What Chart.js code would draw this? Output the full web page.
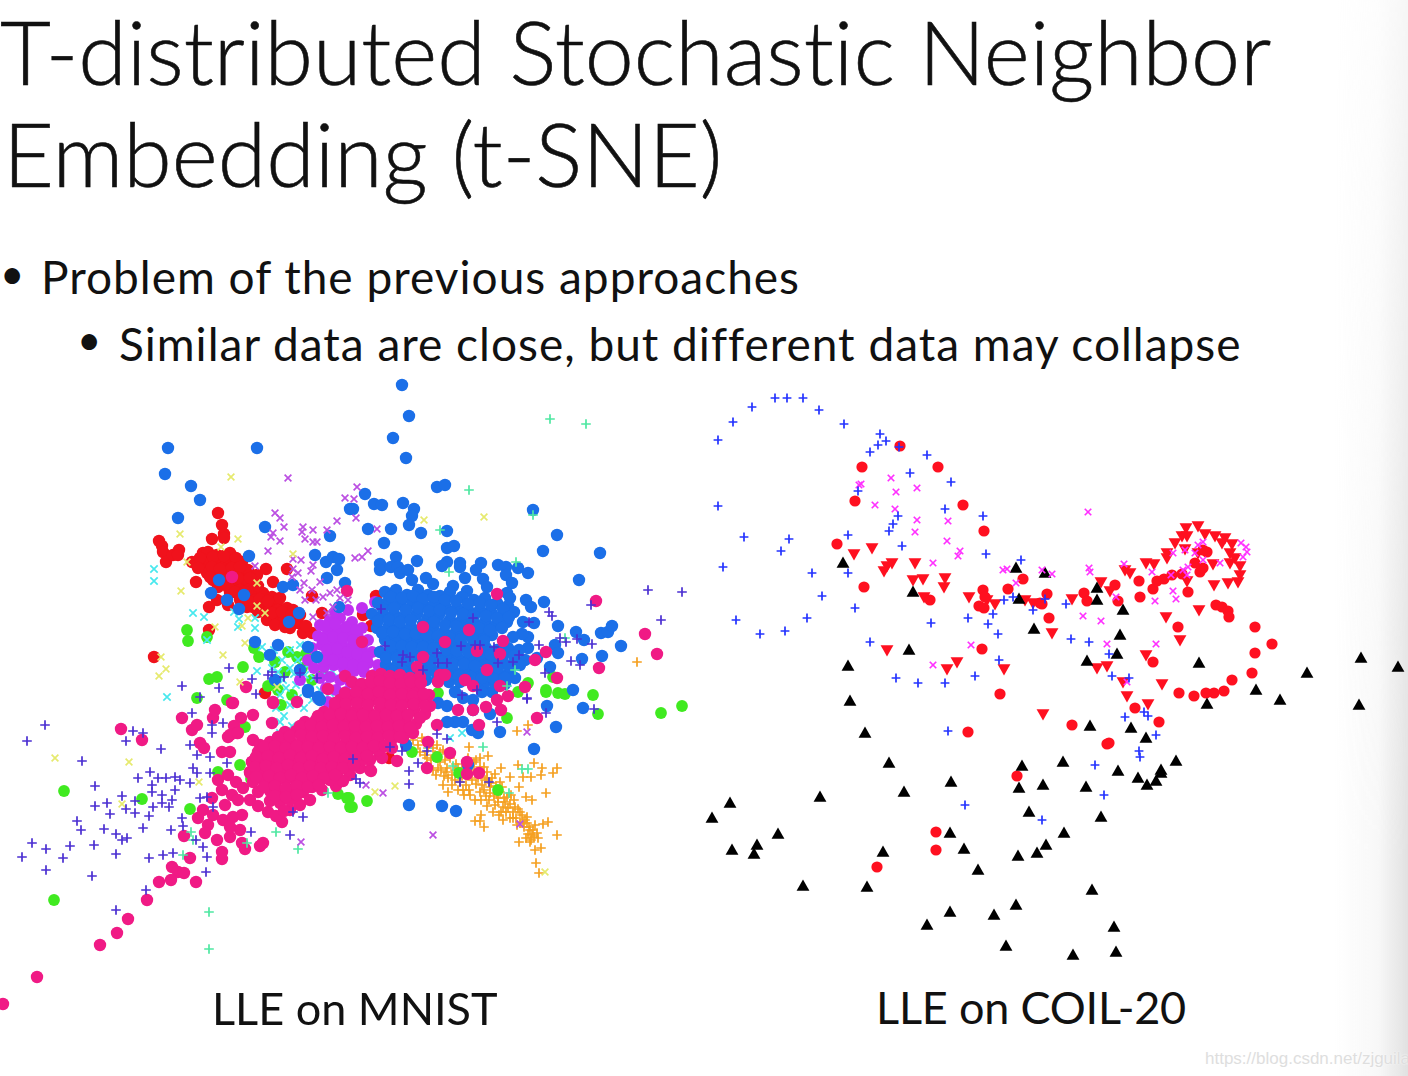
<!DOCTYPE html>
<html>
<head>
<meta charset="utf-8">
<title>t-SNE slide</title>
<script src="https://cdn.jsdelivr.net/npm/chart.js@4"></script>
<style>
  html, body { margin: 0; padding: 0; background: #fff; }
  body { position: relative; width: 1408px; height: 1076px; overflow: hidden; font-family: Lato, "Open Sans", sans-serif; color: #111; font-variant-ligatures: none; }
  .txt { position: absolute; white-space: nowrap; line-height: 1; }
  .title { font-weight: 300; font-size: 88px; -webkit-text-stroke: 0.6px #111; }
  .bullet { font-size: 46px; letter-spacing: 1px; }
  .caption { font-size: 45px; }
  .mark { font-size: 42px; }
  canvas { position: absolute; filter: blur(0.5px); }
  #edge { position: absolute; left: 1335px; top: 0; width: 73px; height: 1076px; background: linear-gradient(to right, rgba(225,225,225,0), rgba(225,225,225,0.25) 60%, rgba(225,225,225,1)); -webkit-mask-image: linear-gradient(to bottom, rgba(0,0,0,0.3), rgba(0,0,0,1) 80%); mask-image: linear-gradient(to bottom, rgba(0,0,0,0.3), rgba(0,0,0,1) 80%); }
  #mark { position: absolute; left: 1205px; top: 1049px; font: 17px "Liberation Sans", sans-serif; color: #dedede; text-shadow: 0 0 2px #fff; }
</style>
</head>
<body>
<div id="edge"></div>
<div class="txt title" style="top:7px;left:0">T-distributed Stochastic Neighbor</div>
<div class="txt title" style="top:109px;left:3px">Embedding (t-SNE)</div>
<div class="txt mark" style="left:0;top:252px">•</div>
<div class="txt bullet" style="left:41px;top:254px">Problem of the previous approaches</div>
<div class="txt mark" style="left:77px;top:318px">•</div>
<div class="txt bullet" style="left:119px;top:321px">Similar data are close, but different data may collapse</div>
<canvas id="chart-mnist" width="690" height="640" style="left:0;top:375px"></canvas>
<canvas id="chart-coil" width="708" height="600" style="left:700px;top:375px"></canvas>
<div class="txt caption" style="left:212px;top:986px;letter-spacing:0">LLE on MNIST</div>
<div class="txt caption" style="left:876px;top:985px;letter-spacing:-0.2px">LLE on COIL-20</div>
<div id="mark">https://blog.csdn.net/zjguilai</div>
<script>
const mnistOrange = [[517,731],[528,725],[518,765],[534,763],[542,768],[557,768],[553,773],[541,775],[523,777],[531,777],[510,777],[519,787],[546,793],[480,792],[526,797],[532,800],[481,815],[475,821],[480,821],[484,827],[503,820],[543,824],[548,822],[557,835],[519,842],[530,842],[535,850],[541,848],[536,863],[539,873],[488,756],[469,747],[501,768],[469,790],[637,662],
  [413,740],[418,745],[424,741],[420,752],[428,748],[435,755],[431,760],[440,752],[445,760],[438,768],[447,768],[452,775],[444,776],[458,768],[462,776],[468,772],[474,770],[480,767],[487,772],[472,780],[478,778],[485,780],[492,778],[466,785],[490,787],[484,790],[496,786],[500,792],[494,796],[489,800],[504,798],[498,802],[507,797],[503,807],[510,804],[514,800],[506,812],[513,812],[518,809],[510,818],[516,818],[522,815],[520,823],[525,820],[527,817],[524,827],[529,827],[533,830],[528,834],[534,837],[537,833],[531,840],[452,785],[458,790],[464,795],[443,785],[448,792],[455,770],[426,766],[436,775],[443,750],[495,774],[500,782],[476,760],[468,758],
  [474,762],[479,773],[484,767],[470,774],[476,784],[482,785],[487,778],[491,783],[480,758],[462,768],[456,764],[450,758],[446,772],[440,762],[433,748],[425,755],[422,738],[430,742],[437,745],[497,794],[502,787],[490,793],[486,796],[495,805],[501,812],[508,808],[505,802],[511,795],[498,798],[515,807],[520,812],[513,818],[517,825],[523,822],[527,823],[530,830],[535,825],[526,838],[532,835],[538,838],[460,782],[455,780],[463,790],[470,795],[475,800],[481,800],[487,806],[493,812],[499,815],[448,778],[441,770],[433,770],[427,758],[437,758]];
const mnistRed = [[218,513],[222,525],[212,539],[224,534],[224,538],[159,541],[162,546],[163,552],[166,562],[173,555],[179,550],[178,555],[192,562],[197,565],[203,553],[208,552],[217,555],[230,553],[203,563],[210,562],[218,563],[227,562],[235,565],[242,562],[207,573],[215,572],[225,573],[233,573],[242,572],[248,570],[257,575],[213,580],[223,583],[233,583],[243,582],[252,587],[230,593],[238,588],[247,597],[255,595],[263,593],[272,597],[277,602],[253,607],[262,603],[270,608],[278,610],[287,608],[293,610],[247,607],[267,620],[277,618],[285,615],[298,623],[303,633],[312,633],[266,569],[287,569],[273,582],[196,582],[209,607],[217,600],[228,605],[209,630],[154,657],[265,693],[312,596],[322,613],[376,596],[363,615],[371,626],[389,758],[215,560],[222,568],[240,590],[255,600],[283,622],[290,628],[268,612],[306,626],[292,618],
  [200,558],[213,557],[224,556],[236,558],[198,568],[212,567],[220,569],[232,568],[240,567],[210,577],[220,578],[230,577],[238,578],[250,578],[218,587],[228,587],[248,590],[258,586],[235,592],[245,592],[265,600],[240,600],[250,602],[260,599],[268,601],[258,612],[272,613],[282,612],[292,614],[275,625],[285,627],[280,598],[300,615]];
const mnistCyan = [[154,569],[154,581],[193,613],[204,617],[239,619],[234,612],[238,627],[255,628],[255,618],[262,647],[207,640],[257,671],[167,697],[280,733],[274,650],[282,660],[290,668],[298,660],[305,675],[296,685],[283,680],[310,690],[318,668],[325,685],[333,672],[300,645],[290,650],[272,668],[312,700],[280,695],[462,733],[428,745],[450,738],
  [268,656],[278,672],[286,688],[294,674],[302,682],[308,665],[314,678],[320,690],[326,675],[336,662],[330,693],[298,698],[290,705],[304,708],[276,708],[284,716],[292,726],[280,722]];
const mnistGreen = [[187,630],[188,641],[207,637],[259,657],[254,648],[243,667],[209,679],[217,677],[275,662],[268,686],[297,657],[197,698],[227,700],[64,791],[142,799],[190,809],[54,900],[338,794],[347,798],[350,807],[240,765],[218,772],[251,779],[245,727],[281,705],[349,798],[352,807],[367,801],[498,790],[437,757],[459,773],[412,752],[661,713],[598,714],[593,695],[565,694],[558,693],[546,692],[518,692],[507,718],[546,690],[528,683],[553,677],[438,693],[357,637],[682,706],[285,672],[302,668],[278,690],[292,695],[312,680],[288,652],[306,654],[322,672]];
const mnistMagenta = [[320,625],[330,620],[340,618],[352,622],[362,628],[318,636],[328,632],[338,630],[348,633],[358,637],[368,640],[312,648],[322,645],[332,642],[342,643],[352,647],[362,650],[372,652],[308,660],[318,657],[328,655],[338,654],[348,658],[358,660],[368,663],[378,665],[314,668],[324,667],[334,665],[344,669],[354,671],[364,672],[374,675],[320,678],[330,677],[340,680],[350,682],[360,684],[370,685],[326,688],[336,690],[346,692],[356,694],[318,698],[328,702],[338,703],[380,678],[300,680],[335,612],[348,610],[375,602],[362,608],
  [325,626],[335,624],[346,627],[356,630],[323,639],[333,637],[343,638],[353,640],[363,644],[327,650],[337,649],[347,652],[357,654],[367,657],[323,661],[333,660],[343,663],[353,665],[363,667]];
const mnistBlue = [[168,448],[257,448],[165,474],[191,486],[200,500],[178,518],[265,527],[330,536],[249,556],[315,555],[326,562],[333,557],[339,559],[337,570],[327,578],[345,583],[219,580],[211,593],[227,600],[244,595],[239,609],[283,587],[293,585],[289,622],[299,613],[339,607],[255,642],[278,645],[275,680],[350,509],
  [402,385],[409,416],[393,438],[406,458],[437,487],[445,485],[365,494],[374,504],[382,505],[353,509],[403,503],[414,509],[412,516],[409,525],[421,533],[447,531],[368,529],[391,529],[384,543],[447,548],[454,546],[396,557],[417,561],[533,510],[557,535],[543,551],[600,553],[579,580],[518,568],[528,573],[498,565],[506,567],[506,575],[512,583],[481,563],[476,570],[460,563],[460,567],[447,562],[442,566],[380,564],[380,570],[391,567],[398,567],[400,573],[408,570],[412,580],[426,578],[433,584],[453,586],[465,578],[467,591],[483,579],[487,587],[507,593],[510,598],[526,600],[531,607],[544,602],[523,622],[534,623],[558,626],[576,632],[584,640],[601,633],[608,632],[612,626],[621,646],[602,656],[582,659],[555,645],[558,653],[550,667],[528,648],[528,637],[522,634],[513,637],[492,635],[573,690],
  [547,706],[583,708],[556,727],[534,749],[409,805],[442,806],[456,811],[500,732],[478,733],[472,730],[463,722],[455,722],[447,722],[490,714],[492,692],[473,700],[473,710],[438,703],[447,706],[406,745],[468,765],[300,670],[308,647],[317,657],[308,692],[320,700],[308,690],[318,697],[270,655],
  [385,592],[396,590],[407,595],[418,590],[428,595],[440,596],[450,592],[462,597],[474,600],[485,598],[497,603],[508,606],[378,603],[388,602],[400,604],[412,602],[423,606],[434,604],[445,606],[457,608],[468,610],[480,610],[491,612],[503,614],[514,612],[372,614],[383,615],[394,614],[405,616],[417,614],[428,618],[439,615],[450,620],[462,620],[473,622],[485,622],[496,625],[507,622],[377,628],[389,626],[400,628],[411,627],[422,630],[433,628],[444,632],[456,632],[467,634],[479,635],[487,632],[385,640],[396,638],[407,640],[418,641],[429,640],[440,644],[451,644],[462,645],[474,645],[486,648],[497,650],[508,648],[519,650],[380,652],[392,651],[403,652],[414,654],[425,652],[436,656],[447,656],[458,658],[470,658],[481,660],[492,660],[503,662],[514,664],[525,660],[537,658],[386,665],[398,664],[409,666],[420,665],[431,668],[442,668],[453,670],[465,670],[476,672],[488,672],[499,674],[510,672],[392,678],[403,677],[415,678],[426,680],[437,680],[449,682],[460,682],[472,682],[484,684],[495,684],[505,684],[515,678],[455,692],[463,698],[482,692],
  [391,597],[402,598],[413,596],[423,599],[434,597],[445,600],[456,601],[468,604],[480,603],[491,605],[503,609],[383,609],[394,608],[406,610],[418,608],[429,611],[440,610],[451,613],[463,614],[474,616],[486,616],[497,618],[509,617],[378,621],[389,620],[400,622],[411,620],[423,624],[434,622],[445,625],[456,626],[467,628],[479,628],[490,630],[502,628],[382,633],[393,632],[405,634],[416,634],[427,635],[438,636],[450,638],[461,639],[473,640],[484,641],[391,646],[402,646],[412,647],[423,647],[434,648],[446,650],[457,651],[468,652],[480,654],[491,655],[503,656],[514,656],[386,658],[397,658],[408,660],[420,659],[431,662],[442,662],[453,664],[464,664],[475,666],[487,666],[498,668],[509,666],[520,665],[392,671],[403,671],[415,672],[426,674],[437,674],[448,676],[459,676],[471,677],[482,678],[494,679],[505,678]];
const mnistPink = [[121,729],[142,740],[182,718],[192,730],[197,725],[200,743],[204,748],[213,718],[215,710],[232,703],[241,718],[234,726],[253,715],[272,723],[273,703],[228,737],[237,733],[222,752],[230,752],[252,762],[184,836],[190,858],[172,867],[178,872],[184,873],[171,880],[159,882],[196,882],[147,900],[128,919],[117,933],[100,945],[37,977],[3,1004],[222,859],[222,852],[245,849],[242,843],[260,846],[263,843],[282,822],[232,577],[246,687],[273,702],[233,703],[297,702],[328,689],[345,676],
  [230,735],[238,733],[253,740],[260,745],[253,762],[267,762],[250,773],[258,806],[268,812],[276,816],[290,810],[300,805],[322,790],[336,786],[413,733],[403,738],[392,748],[380,755],[370,760],[360,768],[350,775],[370,770],
  [198,818],[203,810],[213,815],[223,820],[233,817],[242,815],[208,825],[205,833],[217,840],[230,837],[240,830],[230,827],[218,780],[228,775],[236,782],[222,790],[232,795],[243,788],[238,800],[225,805],[250,800],[212,798],
  [382,758],[397,761],[371,771],[343,781],[427,768],[428,742],[450,753],[467,762],[467,774],[479,773],[437,725],[458,710],[473,710],[479,725],[486,707],[501,710],[497,700],[508,696],[537,718],
  [497,594],[596,601],[645,634],[657,654],[599,668],[557,678],[525,687],[546,652],[535,660],[503,641],[500,654],[469,630],[423,627],[445,642],[477,651],[487,670],[500,686],[465,680],[473,686],[440,675],[438,682],[445,675],[417,667],[412,684],[400,682],[423,657],[362,642],[347,591],
  [362,690],[373,688],[384,686],[396,690],[407,692],[418,688],[429,695],[340,700],[351,698],[362,700],[374,699],[385,697],[397,700],[408,702],[420,700],[430,706],[324,712],[335,708],[346,710],[357,709],[368,711],[380,708],[391,710],[402,712],[414,710],[425,714],[305,722],[316,720],[327,721],[338,719],[349,722],[360,720],[371,722],[382,720],[393,722],[405,721],[416,724],[285,732],[296,731],[307,730],[318,732],[329,730],[340,733],[351,731],[362,733],[373,731],[384,733],[395,732],[406,730],[270,742],[281,741],[292,743],[303,740],[314,743],[325,741],[336,744],[347,742],[358,744],[369,742],[380,744],[391,741],[258,752],[269,751],[280,753],[291,750],[302,753],[313,751],[324,754],[335,752],[346,754],[357,752],[368,752],[378,750],[252,762],[263,761],[274,763],[285,760],[296,763],[307,761],[318,764],[329,762],[340,763],[351,761],[362,760],[250,772],[261,771],[272,773],[283,770],[294,773],[305,771],[316,773],[327,771],[338,772],[348,770],[253,782],[264,781],[275,783],[286,780],[297,783],[308,781],[319,783],[330,780],[258,792],[270,791],[281,793],[292,790],[303,792],[312,787],[270,801],[280,803],[290,800],[284,811],[310,800],
  [372,676],[381,674],[390,676],[400,675],[410,678],[420,677],[352,682],[362,684],[371,682],[380,681],[390,683],[401,684],[411,682],[421,683],[345,693],[356,692],[368,694],[379,692],[390,695],[402,694],[413,696],[424,694],[335,703],[346,704],[357,703],[368,705],[380,703],[391,705],[402,706],[414,704],[425,706],[318,716],[330,715],[341,714],[352,716],[363,715],[375,716],[386,715],[397,716],[408,715],[420,718],[300,726],[311,725],[322,727],[333,725],[344,727],[355,726],[366,727],[377,726],[388,727],[399,726],[410,728],[278,737],[290,736],[301,735],[312,737],[323,736],[334,738],[345,736],[356,738],[367,737],[378,738],[389,736],[400,737],[264,747],[275,746],[286,748],[297,746],[308,747],[319,748],[330,747],[341,748],[352,747],[363,748],[374,746],[385,746],[256,757],[268,756],[279,758],[290,755],[301,758],[312,756],[323,759],[334,757],[345,759],[356,757],[367,756],[255,767],[266,766],[277,768],[288,765],[299,768],[310,766],[321,768],[332,767],[343,768],[354,765],[256,777],[269,776],[280,778],[291,775],[302,778],[313,776],[324,778],[335,775],[264,787],[275,786],[286,788],[297,786],[308,787],[319,785],[275,796],[286,797],[297,795]];
const mnistGreenPlus = [[550,419],[586,424],[469,490],[440,530],[449,572],[516,562],[565,638],[515,670],[507,686],[533,515],[209,912],[209,949],[191,832],[328,793],[276,832],[298,849],[247,843],[183,855],[193,840],[483,747],[509,793],[522,769],[528,769],[453,766]];
const mnistPurpleX = [[288,478],[345,498],[275,513],[280,518],[284,527],[337,521],[273,533],[271,537],[280,541],[303,527],[302,532],[313,530],[327,530],[305,539],[313,542],[317,542],[268,551],[293,559],[301,560],[313,565],[255,566],[293,569],[298,573],[292,577],[311,571],[304,583],[300,590],[312,590],[320,582],[323,597],[330,593],[333,607],[340,598],[305,600],[313,617],[327,613],[357,487],[354,499],[356,518],[377,529],[368,551],[355,558],[362,557],[527,732],[383,793],[520,824],[433,835],[366,785],[301,842],[316,600],[337,590],[348,600]];
const mnistYellowX = [[231,477],[180,534],[238,539],[221,547],[187,562],[181,591],[257,583],[257,606],[265,613],[293,554],[248,618],[215,627],[242,626],[245,643],[223,655],[161,657],[166,669],[159,676],[240,682],[277,687],[424,520],[484,517],[55,758],[129,762],[122,804],[199,782],[395,786],[375,792],[545,872]];
const mnistIndigoPlus = [[45,725],[27,741],[133,731],[143,733],[126,741],[161,749],[82,761],[192,713],[95,786],[150,772],[138,778],[158,778],[166,778],[175,777],[180,780],[190,783],[193,768],[197,773],[210,773],[152,785],[152,792],[175,790],[162,795],[172,800],[122,796],[135,801],[107,803],[95,806],[126,809],[135,813],[110,814],[153,807],[162,803],[169,807],[149,816],[77,821],[81,830],[104,829],[116,834],[143,828],[171,830],[122,840],[127,838],[32,843],[46,849],[70,846],[94,845],[116,854],[22,857],[63,858],[46,870],[92,876],[149,858],[163,855],[173,853],[146,890],[116,910],[206,872],[207,857],[203,847],[196,840],[182,818],[183,826],[200,798],[207,797],[213,807],[190,745],[197,755],[210,757],[212,733],[212,725],[223,723],[227,763],[293,812],[303,817],[290,835],[251,832],
  [229,668],[182,686],[219,688],[252,679],[268,675],[284,677],[256,694],[200,697],[272,672],[300,673],[317,678],
  [648,590],[682,592],[591,605],[549,612],[552,616],[529,622],[661,620],[560,638],[566,642],[577,639],[592,644],[539,645],[571,661],[580,665],[545,673],[519,655],[513,662],[498,663],[494,647],[473,618],[381,609],[385,646],[461,646],[475,645],[480,645],[403,655],[410,657],[402,662],[437,653],[438,663],[423,670],[447,663],[462,695],[527,698],[477,690],
  [527,699],[546,713],[594,709],[497,722],[437,734],[447,739],[427,751],[402,751],[418,763],[409,771],[409,784],[356,779],[360,783],[460,782],[489,782],[390,747],[353,759]];

const coilPlus = [[718,440],[733,422],[752,407],[775,398],[787,398],[803,398],[819,410],[844,424],[880,434],[886,441],[878,445],[870,452],[899,447],[927,455],[910,473],[951,482],[858,491],[718,506],[898,516],[893,524],[889,531],[945,509],[983,516],[848,535],[744,537],[789,539],[781,551],[902,546],[986,554],[723,567],[1021,560],[848,573],[812,573],[822,596],[855,608],[807,618],[736,620],[785,631],[760,634],[931,623],[968,618],[993,614],[988,624],[998,634],[1004,600],[1013,597],[1033,610],[1045,599],[870,642],[896,678],[918,683],[945,683],[975,676],[999,660],[948,731],[965,805],[1042,820],[1095,765],[1104,795],[1125,717],[1144,712],[1148,716],[1156,735],[1139,751],[1140,757],[1066,604],[1071,639],[1089,642],[1109,654],[1112,676],[1129,678]];
const coilCross = [[891,478],[859,485],[861,484],[896,492],[917,488],[875,505],[895,509],[917,520],[948,521],[915,532],[947,541],[960,551],[958,556],[933,563],[1003,570],[1007,569],[1016,583],[1042,570],[1052,574],[971,645],[933,665],[1088,512],[1089,568],[1090,572],[1124,564],[1152,572],[1173,553],[1116,597],[1155,601],[1173,591],[1176,599],[1083,616],[1101,621],[1107,644],[1156,644],[1127,682],[1241,543],[1246,547],[1247,552],[1243,557],[1220,563],[1203,542],[1198,545],[1185,550],[1195,553],[1203,560],[1188,567],[1183,570],[1187,575],[1171,575]];
const coilDots = [[900,446],[862,467],[938,467],[855,501],[963,505],[984,531],[837,544],[864,587],[930,600],[983,590],[1008,589],[1023,579],[985,597],[979,606],[984,608],[1047,594],[1040,603],[1049,618],[982,649],[1042,604],[1084,593],[1087,601],[1115,585],[1118,601],[1139,581],[1140,597],[1153,589],[1157,581],[1164,579],[1172,575],[1182,574],[1188,592],[1216,605],[1222,607],[1228,611],[1229,617],[1178,627],[1255,627],[1272,644],[1255,653],[1252,673],[1232,680],[1224,691],[1214,693],[1206,693],[1194,696],[1179,693],[1153,662],[1135,708],[1159,722],[1072,725],[1107,744],[1109,743],[968,732],[1017,776],[936,832],[936,850],[877,867],[1000,694],[1200,572],[1203,568],[1195,563],[1207,552],[1203,550]];
const coilDown = [[854,553],[872,547],[892,562],[887,565],[884,570],[915,562],[913,579],[923,578],[945,577],[944,586],[924,596],[969,596],[987,599],[995,603],[1025,599],[1033,602],[1052,632],[887,649],[957,661],[947,668],[1004,668],[1072,598],[1101,581],[1110,590],[1125,569],[1130,572],[1146,562],[1154,563],[1167,552],[1167,557],[1175,542],[1186,527],[1198,525],[1182,535],[1187,535],[1205,533],[1215,535],[1225,537],[1222,542],[1232,543],[1230,552],[1235,557],[1240,565],[1240,574],[1238,581],[1228,582],[1214,584],[1185,548],[1187,580],[1213,563],[1198,552],[1230,562],[1199,609],[1166,616],[1180,639],[1146,654],[1097,667],[1107,665],[1123,681],[1162,683],[1127,695],[1148,703],[1043,713]];
const coilUp = [[843,564],[913,593],[1016,569],[1045,574],[1019,600],[1034,630],[909,651],[848,667],[1097,589],[1097,601],[1123,611],[1120,636],[1087,662],[1117,655],[1199,664],[1256,691],[1280,701],[1307,674],[1361,659],[1398,668],[1359,706],[1207,705],[1090,727],[1131,729],[1146,739],[1063,763],[1118,772],[1138,779],[1176,762],[1161,771],[1161,774],[1156,782],[1147,786],[1086,788],[1043,786],[850,702],[865,734],[889,764],[951,783],[904,793],[820,798],[730,804],[712,819],[778,835],[757,846],[732,851],[754,855],[950,834],[964,850],[883,853],[978,871],[803,887],[867,888],[950,913],[927,926],[994,916],[1016,906],[1006,947],[1073,956],[1116,953],[1114,928],[1092,891],[1022,767],[1019,789],[1101,818],[1029,813],[1064,834],[1046,846],[1037,854],[1018,857]];

function dots(data, color, style, radius, extra) {
  const thin = style === "cross" || style === "crossRot";
  return Object.assign({
    data,
    showLine: false,
    pointStyle: style,
    pointRadius: radius,
    pointBackgroundColor: color,
    pointBorderColor: color,
    pointBorderWidth: thin ? 1.7 : 0,
    clip: false,
  }, extra);
}

/** The library insets the plot by the point size, so the ranges are set from the real chart area. */
function drawChart(id, originX, originY, datasets) {
  const chart = new Chart(document.getElementById(id), {
    type: "scatter",
    data: { datasets },
    options: {
      responsive: false,
      animation: false,
      layout: { padding: 0 },
      plugins: { legend: { display: false }, tooltip: { enabled: false } },
      scales: {
        x: { type: "linear", display: false },
        y: { type: "linear", display: false, reverse: true },
      },
    },
  });
  const area = chart.chartArea;
  chart.options.scales.x.min = originX + area.left;
  chart.options.scales.x.max = originX + area.right;
  chart.options.scales.y.min = originY + area.top;
  chart.options.scales.y.max = originY + area.bottom;
  chart.update("none");
  return chart;
}

// first dataset ends up on top
drawChart("chart-mnist", 0, 375, [
  dots(mnistIndigoPlus, "#4b2fd2", "cross", 4.8),
  dots(mnistYellowX, "#e6ea6e", "crossRot", 4.8),
  dots(mnistPurpleX, "#bb4fe2", "crossRot", 4.8),
  dots(mnistGreenPlus, "#4fe8a2", "cross", 4.8),
  dots(mnistPink, "#f01a85", "circle", 6.2),
  dots(mnistBlue, "#1b6fe8", "circle", 6.2),
  dots(mnistMagenta, "#c030f0", "circle", 6),
  dots(mnistCyan, "#48e8ee", "crossRot", 5.2),
  dots(mnistGreen, "#40ea20", "circle", 5.9),
  dots(mnistRed, "#f0121c", "circle", 6.2),
  dots(mnistOrange, "#f5a020", "cross", 4.8),
]);

drawChart("chart-coil", 700, 375, [
  dots(coilPlus, "#2433ff", "cross", 4.4),
  dots(coilCross, "#ff30ff", "crossRot", 4.6),
  dots(coilUp, "#000000", "triangle", 7.4),
  dots(coilDots, "#ff1020", "circle", 5.6),
  dots(coilDown, "#ff1020", "triangle", 7.4, { pointRotation: 180 }),
]);
</script>
</body>
</html>
